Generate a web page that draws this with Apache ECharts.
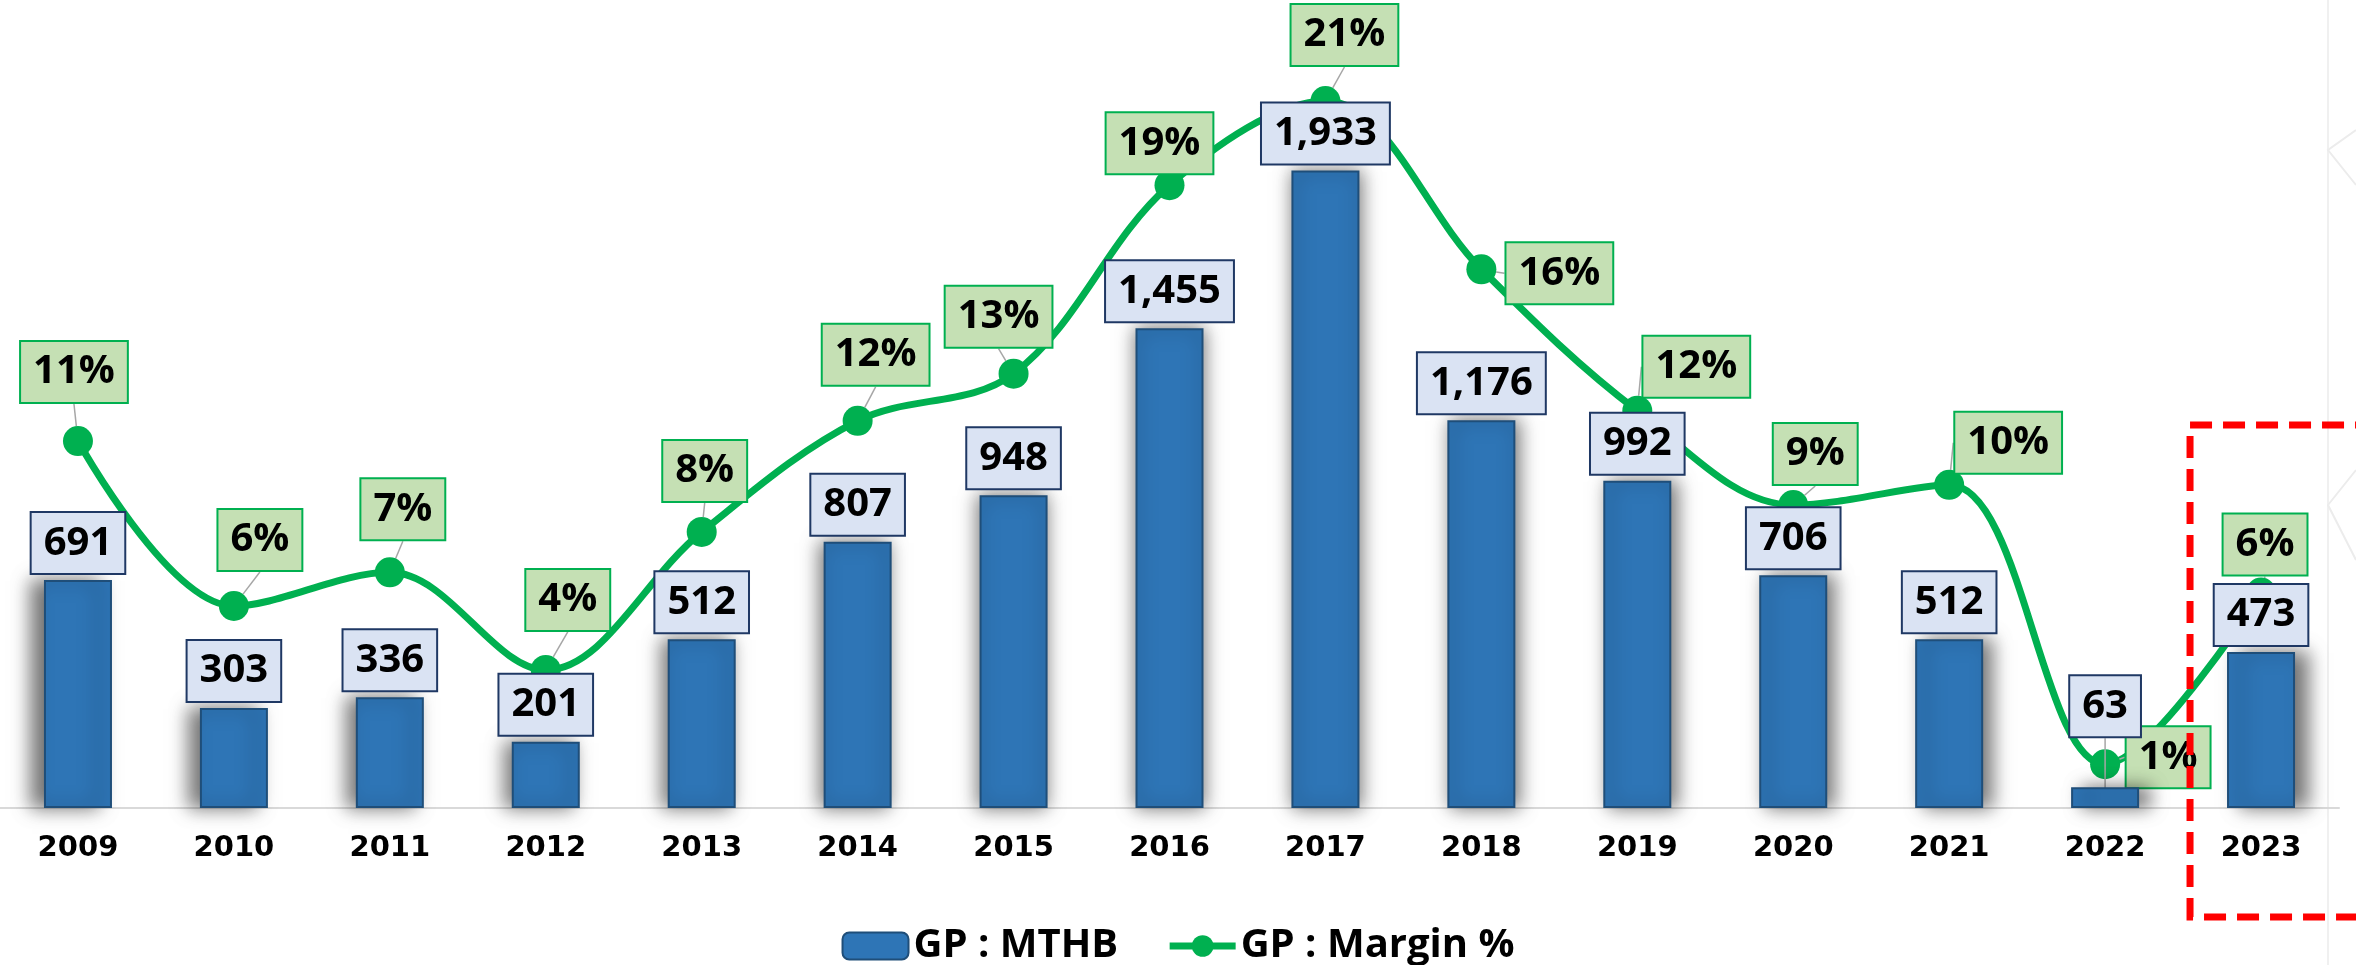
<!DOCTYPE html>
<html>
<head>
<meta charset="utf-8">
<title>GP : MTHB / GP : Margin %</title>
<style>
  html, body { margin: 0; padding: 0; background: #ffffff; }
  #chart { width: 2356px; height: 965px; }
</style>
<script src="https://cdn.jsdelivr.net/npm/echarts@6.0.0/dist/echarts.min.js"></script>
</head>
<body>
<div id="chart"></div>
<script>
const years = ['2009', '2010', '2011', '2012', '2013', '2014', '2015', '2016',
  '2017', '2018', '2019', '2020', '2021', '2022', '2023'];
const gpMthb = [691, 303, 336, 201, 512, 807, 948, 1455, 1933, 1176, 992, 706, 512, 63, 473];
const gpMarginPct = [10.9, 6.0, 7.0, 4.1, 8.2, 11.5, 12.9, 18.5, 21.0, 16.0, 11.8, 9.0, 9.6, 1.3, 6.4];

// offset of each % box from its point (px), like the hand-placed excel labels
const marginLabelShift = [
  [-4, -69], [26, -66], [13, -63], [22, -70], [3, -61], [18, -66], [-15, -57], [-10, -42],
  [19, -66], [78, 4], [59, -44], [22, -51], [59, -42], [63, -7], [4, -48]
];
// only the tiny 2022 bar had its value box pulled up
const barLabelLift = [0, 0, 0, 0, 0, 0, 0, 0, 0, 0, 0, 0, 0, -44, 0];

const labelFont = 'Open Sans, Noto Sans, sans-serif';

const chart = echarts.init(document.getElementById('chart'));

const option = {
  backgroundColor: '#ffffff',
  animation: false,
  grid: { left: -2, right: 17, top: 0, bottom: 157 },
  legend: {
    data: ['GP : MTHB', 'GP : Margin %'],
    left: 'center',
    top: 921,
    itemWidth: 66,
    itemHeight: 27,
    itemGap: 48,
    lineStyle: { width: 7 },
    textStyle: { fontFamily: labelFont, fontWeight: 'bold', fontSize: 40, color: '#000000' }
  },
  xAxis: {
    type: 'category',
    data: years,
    axisLine: { lineStyle: { color: '#d9d9d9', width: 2 } },
    axisTick: { show: false },
    axisLabel: {
      margin: 26,
      fontFamily: 'DejaVu Sans',
      fontWeight: 'bold',
      fontSize: 29,
      color: '#000000'
    }
  },
  yAxis: [
    { type: 'value', min: 0, max: 2450, show: false, splitLine: { show: false } },
    { type: 'value', min: 0, max: 24, show: false, splitLine: { show: false } }
  ],
  series: [
    {
      name: 'GP : MTHB',
      type: 'bar',
      z: 3,
      barWidth: 68,
      data: gpMthb.map((v, i) => ({
        value: v,
        itemStyle: { shadowOffsetX: (i - 7) * 1.8 },
        labelLine: { show: barLabelLift[i] !== 0 }
      })),
      itemStyle: {
        color: '#2e75b6',
        borderColor: '#1f4e79',
        borderWidth: 2,
        shadowColor: 'rgba(0, 0, 0, 0.55)',
        shadowBlur: 18
      },
      label: {
        show: true,
        position: 'top',
        distance: 7,
        formatter: p => p.value.toLocaleString('en-US'),
        fontFamily: labelFont,
        fontWeight: 'bold',
        fontSize: 40,
        lineHeight: 44,
        color: '#000000',
        backgroundColor: '#dae3f3',
        borderColor: '#1f3864',
        borderWidth: 2,
        padding: [8, 12]
      },
      labelLine: {
        show: false,
        lineStyle: { color: '#a6a6a6', width: 1.5 }
      },
      labelLayout: function (p) {
        return { dy: barLabelLift[p.dataIndex] };
      }
    },
    {
      name: 'GP : Margin %',
      type: 'line',
      yAxisIndex: 1,
      z: 2,
      data: gpMarginPct,
      smooth: 0.35,
      symbol: 'circle',
      symbolSize: 30,
      lineStyle: { color: '#00b050', width: 7 },
      itemStyle: { color: '#00b050' },
      label: {
        show: true,
        position: 'top',
        formatter: p => Math.round(p.value) + '%',
        fontFamily: labelFont,
        fontWeight: 'bold',
        fontSize: 40,
        lineHeight: 44,
        color: '#000000',
        backgroundColor: '#c5e0b4',
        borderColor: '#00b050',
        borderWidth: 2,
        padding: [8, 12]
      },
      labelLine: {
        show: true,
        lineStyle: { color: '#a6a6a6', width: 1.5 }
      },
      labelLayout: function (p) {
        const s = marginLabelShift[p.dataIndex];
        return {
          x: p.rect.x + p.rect.width / 2 + s[0],
          y: p.rect.y + p.rect.height / 2 + s[1],
          align: 'center',
          verticalAlign: 'middle'
        };
      }
    }
  ]
};

chart.setOption(option);

// red dashed highlight round the latest year, plus the faint slide pattern on the right edge
const lastX = chart.convertToPixel({ xAxisIndex: 0 }, years[years.length - 1]);
chart.setOption({
  graphic: [
    {
      type: 'polyline',
      z: 0,
      shape: { points: [[2328, 0], [2328, 965]] },
      style: { stroke: '#f0f0f0', lineWidth: 2 }
    },
    {
      type: 'polyline',
      z: 0,
      shape: { points: [[2356, 130], [2328, 150], [2356, 185]] },
      style: { fill: 'none', stroke: '#ececec', lineWidth: 2 }
    },
    {
      type: 'polyline',
      z: 0,
      shape: { points: [[2356, 470], [2328, 505], [2356, 560]] },
      style: { fill: 'none', stroke: '#ececec', lineWidth: 2 }
    },
    {
      type: 'rect',
      z: 100,
      shape: { x: lastX - 71, y: 425, width: 300, height: 492 },
      style: { fill: 'none', stroke: '#ff0000', lineWidth: 7, lineDash: [22, 11] }
    }
  ]
});

window.addEventListener('resize', () => chart.resize());
</script>
</body>
</html>
